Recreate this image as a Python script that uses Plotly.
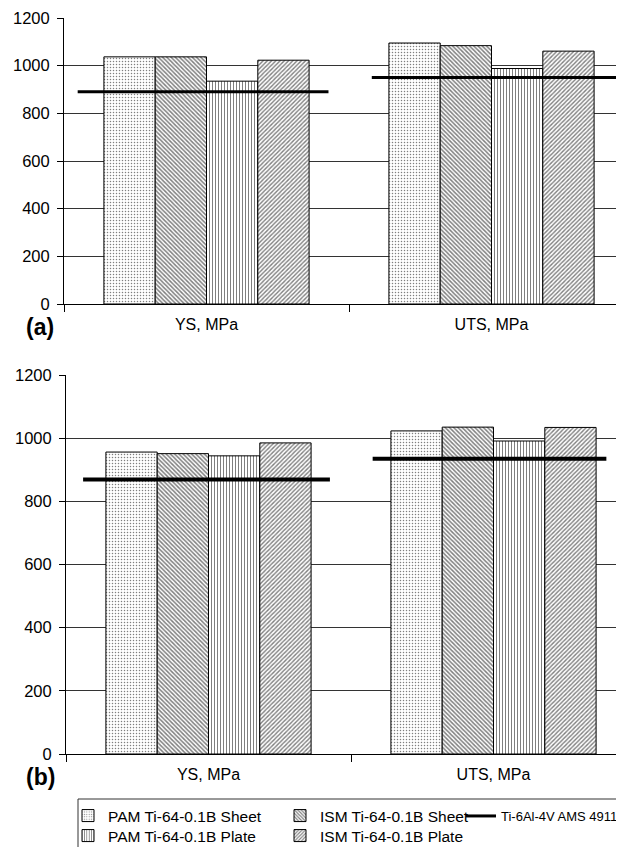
import plotly.graph_objects as go

# ---------------- data ----------------
categories = ["YS, MPa", "UTS, MPa"]
series_names = ["PAM Ti-64-0.1B Sheet", "ISM Ti-64-0.1B Sheet",
                "PAM Ti-64-0.1B Plate", "ISM Ti-64-0.1B Plate"]
ams_name = "Ti-6Al-4V AMS 4911"

# panel (a)
a_pam_sheet = [1037, 1095]
a_ism_sheet = [1037, 1084]
a_pam_plate = [935, 988]
a_ism_plate = [1023, 1061]
a_ams = [891, 950]

# panel (b)
b_pam_sheet = [956, 1023]
b_ism_sheet = [951, 1035]
b_pam_plate = [944, 991]
b_ism_plate = [985, 1034]
b_ams = [869, 935]

y_ticks = [0, 200, 400, 600, 800, 1000, 1200]
panel_labels = ["(a)", "(b)"]

# ---------------- styling ----------------
PAGE_OFF = 8            # page body margin in the browser
W, H = 624 - PAGE_OFF, 847 - PAGE_OFF
FONT = "Arial, Liberation Sans, sans-serif"
patterns = [".", "\\", "|", "/"]
pat_size = [3, 3, 3, 3]
pat_solid = [0.2, 0.5, 0.35, 0.45]
CAT_PX = 285.0
LEG_FS = 15.5


def fx(px):
    return (px - PAGE_OFF) / W


def fy(py):
    return 1 - (py - PAGE_OFF) / H


# line style: shift of first segment centre, spacing between centres,
# half-length of each segment (all in category units)
panels = [
    dict(vals=[a_pam_sheet, a_ism_sheet, a_pam_plate, a_ism_plate], ams=a_ams,
         xa="x", ya="y", top=18, bottom=304, left=64, lw=3,
         l_shift=-0.012, l_step=1.032, l_half=[0.44, 0.44]),
    dict(vals=[b_pam_sheet, b_ism_sheet, b_pam_plate, b_ism_plate], ams=b_ams,
         xa="x2", ya="y2", top=375, bottom=754, left=66, lw=4,
         l_shift=-0.007, l_step=0.993, l_half=[0.433, 0.41]),
]

legend_ids = ["legend", "legend3", "legend2", "legend4"]

fig = go.Figure()
xcat = list(range(len(categories)))

for p_i, p in enumerate(panels):
    for s_i, name in enumerate(series_names):
        fig.add_trace(go.Bar(
            x=xcat, y=p["vals"][s_i], name=name,
            offsetgroup=str(s_i),
            xaxis=p["xa"], yaxis=p["ya"],
            marker=dict(color="white",
                        line=dict(color="black", width=1),
                        pattern=dict(shape=patterns[s_i], fgcolor="black",
                                     bgcolor="white", size=pat_size[s_i],
                                     solidity=pat_solid[s_i])),
            showlegend=(p_i == 0),
            legend=legend_ids[s_i],
        ))
    xs, ys = [], []
    for i, v in enumerate(p["ams"]):
        c = p["l_shift"] + i * p["l_step"]
        h = p["l_half"][i]
        xs += [c - h, c + h, None]
        ys += [v, v, None]
    fig.add_trace(go.Scatter(
        x=xs, y=ys, mode="lines", name=ams_name,
        line=dict(color="black", width=p["lw"]),
        xaxis=p["xa"], yaxis=p["ya"],
        showlegend=(p_i == 0), legend="legend5",
    ))


def xaxis_cfg(p, anchor):
    return dict(
        domain=[fx(p["left"]), 1],
        range=[-0.5, -0.5 + (624 - p["left"]) / CAT_PX],
        tickmode="array", tickvals=xcat, ticktext=categories,
        ticks="", showline=True, linecolor="black", linewidth=1,
        showgrid=False, zeroline=False, anchor=anchor, automargin=False,
        tickfont=dict(family=FONT, size=16, color="black"),
        ticklabelstandoff=6,
        minor=dict(tickmode="array", tickvals=[-0.5, 0.5, 1.5], ticks="outside",
                   ticklen=7, tickcolor="black", tickwidth=1, showgrid=False),
    )


def yaxis_cfg(p, anchor):
    return dict(
        domain=[fy(p["bottom"]), fy(p["top"])],
        range=[0, 1200], tickmode="array", tickvals=y_ticks,
        ticks="outside", ticklen=6, tickcolor="black",
        showline=True, linecolor="black", linewidth=1,
        showgrid=True, gridcolor="#333", gridwidth=1, zeroline=False,
        anchor=anchor, automargin=False,
        tickfont=dict(family=FONT, size=16.5, color="black"),
        ticklabelstandoff=4,
    )


def leg(xpx, ypx, size=LEG_FS):
    return dict(x=fx(xpx), y=fy(ypx), xanchor="left", yanchor="middle",
                bgcolor="rgba(0,0,0,0)", borderwidth=0,
                font=dict(family=FONT, size=size, color="black"))


fig.update_layout(
    width=W, height=H,
    margin=dict(l=0, r=0, t=0, b=0, autoexpand=False),
    paper_bgcolor="white", plot_bgcolor="white",
    barmode="group", bargap=0.28, bargroupgap=0,
    xaxis=xaxis_cfg(panels[0], "y"), yaxis=yaxis_cfg(panels[0], "x"),
    xaxis2=xaxis_cfg(panels[1], "y2"), yaxis2=yaxis_cfg(panels[1], "x2"),
    legend=leg(68, 816), legend2=leg(68, 836),
    legend3=leg(280, 816), legend4=leg(280, 836),
    legend5=leg(461, 816, 13),
    font=dict(family=FONT, color="black"),
    showlegend=True,
)

for p, lab in zip(panels, panel_labels):
    fig.add_annotation(text="<b>%s</b>" % lab, xref="paper", yref="paper",
                       x=fx(40), y=fy(p["bottom"] + 23),
                       xanchor="center", yanchor="middle", showarrow=False,
                       font=dict(family=FONT, size=23, color="black"))

fig.add_shape(type="rect", xref="paper", yref="paper",
              x0=fx(78), x1=1.05, y0=-0.05, y1=fy(799),
              line=dict(color="#333", width=1), fillcolor="rgba(0,0,0,0)")

fig.write_html("out.html")
